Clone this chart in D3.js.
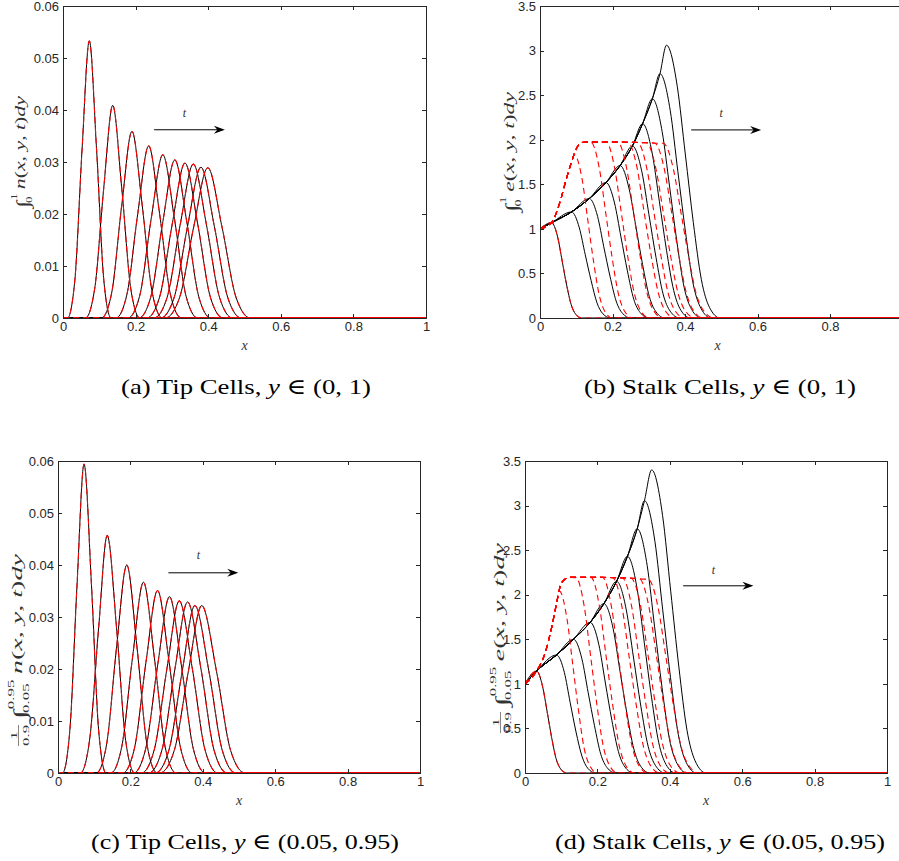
<!DOCTYPE html>
<head>
  <meta charset="utf-8">
  <script src="https://d3js.org/d3.v7.min.js"></script>
  <style>
    body { margin:0; background:#fff; }
    svg { display:block; }
  </style>
</head>
<body>
<div id="chart"></div>
<script>
  // x ticks shared by all four panels
  var xTicks = [0, 0.2, 0.4, 0.6, 0.8, 1];
  var xLabels = ["0", "0.2", "0.4", "0.6", "0.8", "1"];
  var tipYTicks = [0, 0.01, 0.02, 0.03, 0.04, 0.05, 0.06];
  var tipYLabels = ["0", "0.01", "0.02", "0.03", "0.04", "0.05", "0.06"];
  var stalkYTicks = [0, 0.5, 1, 1.5, 2, 2.5, 3, 3.5];
  var stalkYLabels = ["0", "0.5", "1", "1.5", "2", "2.5", "3", "3.5"];

  // (a) tip cells, y in (0,1): one bump per time step
  var tipA = [
    [[0.0125,0],[0.0325,0.0072],[0.0525,0.0324],[0.0725,0.0533],[0.0925,0.0324],[0.1125,0.0072],[0.1325,0]],
    [[0.062,0],[0.087,0.0055],[0.112,0.0248],[0.137,0.0409],[0.162,0.0248],[0.187,0.0055],[0.212,0]],
    [[0.106,0],[0.134,0.0048],[0.162,0.0218],[0.19,0.0359],[0.218,0.0218],[0.246,0.0048],[0.274,0]],
    [[0.146,0],[0.176,0.0045],[0.206,0.0201],[0.236,0.0331],[0.266,0.0201],[0.296,0.0045],[0.326,0]],
    [[0.179,0],[0.211,0.0042],[0.243,0.0191],[0.275,0.0314],[0.307,0.0191],[0.339,0.0042],[0.371,0]],
    [[0.209,0],[0.242,0.0041],[0.275,0.0185],[0.308,0.0304],[0.341,0.0185],[0.374,0.0041],[0.407,0]],
    [[0.231,0],[0.266,0.004],[0.301,0.0181],[0.336,0.0298],[0.371,0.0181],[0.406,0.004],[0.441,0]],
    [[0.251,0],[0.287,0.004],[0.323,0.018],[0.359,0.0296],[0.395,0.018],[0.431,0.004],[0.467,0]],
    [[0.269,0],[0.306,0.0039],[0.343,0.0176],[0.38,0.029],[0.417,0.0176],[0.454,0.0039],[0.491,0]],
    [[0.282,0],[0.321,0.0039],[0.36,0.0175],[0.399,0.0289],[0.438,0.0175],[0.477,0.0039],[0.516,0]]
  ];

  // (c) tip cells, y in (0.05,0.95)
  var tipC = [
    [[0.0125,0],[0.0325,0.008],[0.0525,0.0361],[0.072,0.0594],[0.0925,0.0361],[0.1125,0.008],[0.1325,0]],
    [[0.062,0],[0.087,0.0062],[0.112,0.0277],[0.136,0.0457],[0.162,0.0277],[0.187,0.0062],[0.212,0]],
    [[0.106,0],[0.134,0.0054],[0.162,0.0243],[0.19,0.04],[0.218,0.0243],[0.246,0.0054],[0.274,0]],
    [[0.146,0],[0.176,0.005],[0.206,0.0223],[0.236,0.0367],[0.266,0.0223],[0.296,0.005],[0.326,0]],
    [[0.179,0],[0.211,0.0047],[0.243,0.0213],[0.275,0.0351],[0.307,0.0213],[0.339,0.0047],[0.371,0]],
    [[0.209,0],[0.242,0.0046],[0.275,0.0206],[0.308,0.0339],[0.341,0.0206],[0.374,0.0046],[0.407,0]],
    [[0.231,0],[0.266,0.0045],[0.301,0.0201],[0.335,0.0331],[0.371,0.0201],[0.406,0.0045],[0.441,0]],
    [[0.251,0],[0.287,0.0044],[0.323,0.02],[0.358,0.0329],[0.395,0.02],[0.431,0.0044],[0.467,0]],
    [[0.269,0],[0.306,0.0043],[0.343,0.0195],[0.378,0.0322],[0.417,0.0195],[0.454,0.0043],[0.491,0]],
    [[0.282,0],[0.321,0.0043],[0.36,0.0195],[0.397,0.0322],[0.438,0.0195],[0.477,0.0043],[0.516,0]]
  ];

  // (b) stalk cells, y in (0,1): common rising front, then each black curve's drop
  var envB = [[0,1],[0.032,1.07],[0.087,1.19],[0.136,1.34],[0.182,1.52],[0.221,1.71],[0.255,1.93],[0.283,2.18],[0.31,2.46],[0.331,2.74]];
  var blackB = [
    [[0.032,1.07],[0.0486,0.91],[0.0611,0.64],[0.0735,0.37],[0.086,0.15],[0.0984,0.043],[0.115,0]],
    [[0.087,1.19],[0.1086,1.01],[0.1248,0.71],[0.141,0.42],[0.1572,0.17],[0.1734,0.048],[0.195,0]],
    [[0.136,1.34],[0.1588,1.14],[0.1759,0.8],[0.193,0.47],[0.2101,0.19],[0.2272,0.054],[0.25,0]],
    [[0.182,1.52],[0.2056,1.29],[0.2233,0.91],[0.241,0.53],[0.2587,0.21],[0.2764,0.061],[0.3,0]],
    [[0.221,1.71],[0.2458,1.45],[0.2644,1.03],[0.283,0.6],[0.3016,0.24],[0.3202,0.068],[0.345,0]],
    [[0.255,1.93],[0.281,1.64],[0.3005,1.16],[0.32,0.68],[0.3395,0.27],[0.359,0.077],[0.385,0]],
    [[0.283,2.18],[0.3094,1.85],[0.3292,1.31],[0.349,0.76],[0.3688,0.31],[0.3886,0.087],[0.415,0]],
    [[0.31,2.46],[0.337,2.09],[0.3573,1.48],[0.3775,0.86],[0.3978,0.34],[0.418,0.098],[0.445,0]],
    [[0.331,2.74],[0.3592,2.33],[0.3804,1.64],[0.4015,0.96],[0.4227,0.38],[0.4438,0.11],[0.472,0]],
    [[0.349,3.06],[0.3786,2.6],[0.4008,1.84],[0.423,1.07],[0.4452,0.43],[0.4674,0.12],[0.497,0]]
  ];
  var redEnvB = [[0,1],[0.032,1.07],[0.055,1.3],[0.074,1.58],[0.087,1.75],[0.097,1.87],[0.11,1.955],[0.125,1.975],[0.2,1.975],[0.26,1.97],[0.3,1.965],[0.33,1.96]];
  var redB = [
    [[0.095,1.83],[0.116,1.56],[0.1318,1.1],[0.1475,0.64],[0.1633,0.26],[0.179,0.073],[0.2,0]],
    [[0.141,1.97],[0.164,1.67],[0.1813,1.18],[0.1985,0.69],[0.2158,0.28],[0.233,0.079],[0.256,0]],
    [[0.182,1.975],[0.206,1.68],[0.224,1.19],[0.242,0.69],[0.26,0.28],[0.278,0.079],[0.302,0]],
    [[0.214,1.975],[0.239,1.68],[0.2578,1.19],[0.2765,0.69],[0.2953,0.28],[0.314,0.079],[0.339,0]],
    [[0.242,1.972],[0.268,1.68],[0.2875,1.18],[0.307,0.69],[0.3265,0.28],[0.346,0.079],[0.372,0]],
    [[0.269,1.97],[0.295,1.67],[0.3145,1.18],[0.334,0.69],[0.3535,0.28],[0.373,0.079],[0.399,0]],
    [[0.293,1.967],[0.32,1.67],[0.3403,1.18],[0.3605,0.69],[0.3808,0.28],[0.401,0.079],[0.428,0]],
    [[0.316,1.963],[0.343,1.67],[0.3633,1.18],[0.3835,0.69],[0.4038,0.28],[0.424,0.079],[0.451,0]],
    [[0.34,1.96],[0.368,1.67],[0.389,1.18],[0.41,0.69],[0.431,0.27],[0.452,0.078],[0.48,0]]
  ];

  // (d) stalk cells, y in (0.05,0.95)
  var envD = [[0,1],[0.032,1.144],[0.087,1.324],[0.134,1.5],[0.18,1.69],[0.218,1.9],[0.253,2.15],[0.283,2.43],[0.31,2.74],[0.33,3.055]];
  var blackD = [
    [[0.032,1.144],[0.0486,0.97],[0.0611,0.69],[0.0735,0.4],[0.086,0.16],[0.0984,0.046],[0.115,0]],
    [[0.087,1.324],[0.1086,1.13],[0.1248,0.79],[0.141,0.46],[0.1572,0.19],[0.1734,0.053],[0.195,0]],
    [[0.134,1.5],[0.1572,1.28],[0.1746,0.9],[0.192,0.53],[0.2094,0.21],[0.2268,0.06],[0.25,0]],
    [[0.18,1.69],[0.204,1.44],[0.222,1.01],[0.24,0.59],[0.258,0.24],[0.276,0.068],[0.3,0]],
    [[0.218,1.9],[0.2434,1.62],[0.2625,1.14],[0.2815,0.67],[0.3006,0.27],[0.3196,0.076],[0.345,0]],
    [[0.253,2.15],[0.2798,1.83],[0.2999,1.29],[0.32,0.75],[0.3401,0.3],[0.3602,0.086],[0.387,0]],
    [[0.283,2.43],[0.3096,2.07],[0.3296,1.46],[0.3495,0.85],[0.3695,0.34],[0.3894,0.097],[0.416,0]],
    [[0.31,2.74],[0.3374,2.33],[0.358,1.64],[0.3785,0.96],[0.3991,0.38],[0.4196,0.11],[0.447,0]],
    [[0.33,3.055],[0.3588,2.6],[0.3804,1.83],[0.402,1.07],[0.4236,0.43],[0.4452,0.12],[0.474,0]],
    [[0.35,3.4],[0.38,2.89],[0.4025,2.04],[0.425,1.19],[0.4475,0.48],[0.47,0.136],[0.5,0]]
  ];
  var redEnvD = [[0,1],[0.032,1.144],[0.055,1.34],[0.074,1.64],[0.087,1.9],[0.097,2.09],[0.109,2.17],[0.125,2.195],[0.2,2.195],[0.26,2.19],[0.3,2.185],[0.33,2.175]];
  var redD = [
    [[0.095,2.04],[0.116,1.73],[0.1318,1.22],[0.1475,0.71],[0.1633,0.28],[0.179,0.081],[0.2,0]],
    [[0.141,2.19],[0.164,1.86],[0.1813,1.31],[0.1985,0.77],[0.2158,0.31],[0.233,0.088],[0.256,0]],
    [[0.182,2.195],[0.206,1.86],[0.224,1.31],[0.242,0.77],[0.26,0.31],[0.278,0.088],[0.302,0]],
    [[0.214,2.195],[0.239,1.86],[0.2578,1.31],[0.2765,0.77],[0.2953,0.31],[0.314,0.088],[0.339,0]],
    [[0.242,2.19],[0.268,1.86],[0.2875,1.31],[0.307,0.77],[0.3265,0.31],[0.346,0.088],[0.372,0]],
    [[0.269,2.188],[0.295,1.86],[0.3145,1.31],[0.334,0.77],[0.3535,0.31],[0.373,0.087],[0.399,0]],
    [[0.293,2.184],[0.32,1.86],[0.3403,1.31],[0.3605,0.76],[0.3808,0.31],[0.401,0.087],[0.428,0]],
    [[0.316,2.18],[0.343,1.85],[0.3633,1.31],[0.3835,0.76],[0.4038,0.31],[0.424,0.087],[0.451,0]],
    [[0.34,2.175],[0.368,1.85],[0.389,1.31],[0.41,0.76],[0.431,0.3],[0.452,0.087],[0.48,0]]
  ];

  var captions = [
    ["(a) Tip Cells, ", "y", " \u2208 (0, 1)"],
    ["(b) Stalk Cells, ", "y", " \u2208 (0, 1)"],
    ["(c) Tip Cells, ", "y", " \u2208 (0.05, 0.95)"],
    ["(d) Stalk Cells, ", "y", " \u2208 (0.05, 0.95)"]
  ];

  // build full curves from the pieces above
  function tipCurves(bumps) {
    return bumps.map(function(b){ return [[0,0]].concat(b, [[1,0]]); });
  }
  function stalkCurves(env, drops) {
    return drops.map(function(f){
      return env.filter(function(p){ return p[0] < f[0][0]; }).concat(f, [[1,0]]);
    });
  }
  var blackBCurves = stalkCurves(envB, blackB);
  var blackDCurves = stalkCurves(envD, blackD);

  var panels = [
    {box:[63,6,426,318], ydom:[0,0.06], yt:tipYTicks, yl:tipYLabels,
     black:tipCurves(tipA), red:tipCurves(tipA),
     arrow:{x0:0.251, x1:0.446, y:0.0362, ty:0.0386},
     ylab:{x:25, y:152, len:112, kind:"a"}, cap:{x:246, y:394, len:250}},
    {box:[540,6,902.5,318], ydom:[0,3.5], yt:stalkYTicks, yl:stalkYLabels,
     black:blackBCurves, red:[blackBCurves[0]].concat(stalkCurves(redEnvB, redB)),
     arrow:{x0:0.417, x1:0.61, y:2.11, ty:2.25},
     ylab:{x:514, y:152, len:120, kind:"b"}, cap:{x:720, y:394, len:272}},
    {box:[58,461,420,773], ydom:[0,0.06], yt:tipYTicks, yl:tipYLabels,
     black:tipCurves(tipC), red:tipCurves(tipC),
     arrow:{x0:0.305, x1:0.498, y:0.0385, ty:0.0411},
     ylab:{x:22, y:650, len:192, kind:"c"}, cap:{x:245, y:849, len:308}},
    {box:[525,461,887,773], ydom:[0,3.5], yt:stalkYTicks, yl:stalkYLabels,
     black:blackDCurves, red:[blackDCurves[0]].concat(stalkCurves(redEnvD, redD)),
     arrow:{x0:0.437, x1:0.631, y:2.10, ty:2.23},
     ylab:{x:504, y:638, len:190, kind:"d"}, cap:{x:720, y:849, len:330}}
  ];

  var W = 899, H = 861;
  var svg = d3.select("#chart").append("svg").attr("width", W).attr("height", H);
  var axisColor = "#262626";
  var mathFont = "'Liberation Serif', 'DejaVu Serif', serif";

  panels.forEach(function(p, i){
    var L = p.box[0], T = p.box[1], R = p.box[2], B = p.box[3];
    var x = d3.scaleLinear().domain([0,1]).range([L,R]);
    var y = d3.scaleLinear().domain(p.ydom).range([B,T]);
    var g = svg.append("g");

    g.append("clipPath").attr("id","clip"+i).append("rect")
      .attr("x",L).attr("y",T-2).attr("width",R-L).attr("height",B-T+3);

    var line = d3.line().x(function(d){return x(d[0]);}).y(function(d){return y(d[1]);})
      .curve(d3.curveMonotoneX);

    var plot = g.append("g").attr("clip-path","url(#clip"+i+")");
    plot.selectAll(".blk").data(p.black).enter().append("path")
      .attr("d", line).attr("fill","none").attr("stroke","#000").attr("stroke-width",1);
    plot.selectAll(".red").data(p.red).enter().append("path")
      .attr("d", line).attr("fill","none").attr("stroke","#ff0000")
      .attr("stroke-width",1.1).attr("stroke-dasharray","6,4");

    //axes, matlab style box with inward ticks
    function styleAxis(sel){
      sel.attr("color",axisColor).attr("font-size",13)
        .attr("font-family","'Liberation Sans', Arial, sans-serif");
      sel.selectAll("path,line").attr("shape-rendering","crispEdges");
    }
    // a label whose centre falls off the page is left out, as in the picture
    g.append("g").attr("transform","translate(0,"+B+")")
      .call(d3.axisBottom(x).tickValues(xTicks)
        .tickFormat(function(d,k){ return x(d) > W - 4 ? "" : xLabels[k]; })
        .tickSizeInner(-4).tickSizeOuter(0).tickPadding(4)).call(styleAxis);
    g.append("g").attr("transform","translate(0,"+T+")")
      .call(d3.axisTop(x).tickValues(xTicks).tickFormat("").tickSizeInner(-4).tickSizeOuter(0)).call(styleAxis);
    g.append("g").attr("transform","translate("+L+",0)")
      .call(d3.axisLeft(y).tickValues(p.yt).tickFormat(function(d,k){return p.yl[k];})
        .tickSizeInner(-4).tickSizeOuter(0).tickPadding(4)).call(styleAxis);
    g.append("g").attr("transform","translate("+R+",0)")
      .call(d3.axisRight(y).tickValues(p.yt).tickFormat("").tickSizeInner(-4).tickSizeOuter(0)).call(styleAxis);

    // x label
    g.append("text").attr("x",(L+Math.min(R,W))/2 + (i==1 ? -2 : 0)).attr("y",B+32)
      .attr("text-anchor","middle").attr("font-family",mathFont).attr("font-style","italic")
      .attr("font-size",14).attr("fill","#333").text("x");

    // time arrow
    var a = p.arrow, ay = y(a.y), ax0 = x(a.x0), ax1 = x(a.x1);
    g.append("line").attr("x1",ax0).attr("x2",ax1-6).attr("y1",ay).attr("y2",ay)
      .attr("stroke","#000").attr("stroke-width",1);
    g.append("path").attr("d","M"+ax1+","+ay+"L"+(ax1-11)+","+(ay-4)+"L"+(ax1-7.5)+","+ay+"L"+(ax1-11)+","+(ay+4)+"Z")
      .attr("fill","#000");
    g.append("text").attr("x",(ax0+ax1)/2 - 5).attr("y",y(a.ty))
      .attr("text-anchor","middle").attr("font-family",mathFont).attr("font-style","italic")
      .attr("font-size",12).attr("fill","#333").text("t");

    yLabel(p.ylab);

    // caption
    var c = captions[i];
    var ct = svg.append("text").attr("x",p.cap.x).attr("y",p.cap.y).attr("text-anchor","middle")
      .attr("font-family",mathFont).attr("font-size",22).attr("fill","#000")
      .attr("textLength",p.cap.len).attr("lengthAdjust","spacingAndGlyphs");
    ct.append("tspan").text(c[0]);
    ct.append("tspan").attr("font-style","italic").text(c[1]);
    ct.append("tspan").text(c[2]);
  });

  // rotated math label on the y axis
  function yLabel(o){
    var outer = svg.append("g").attr("transform","translate("+o.x+","+o.y+") rotate(-90)");
    var inner = outer.append("g");
    var cx = 0;
    function txt(s, px, dy, size, italic){
      var t = inner.append("text").attr("x",px).attr("y",dy).attr("font-family",mathFont)
        .attr("font-size",size).attr("fill","#333").text(s);
      if (italic) t.attr("font-style","italic");
      return t;
    }
    if (o.kind == "c" || o.kind == "d") {
      var n = txt("1", 0, -5.5, 9), d = txt("0.9", 0, 6.5, 9);
      var w = Math.max(n.node().getComputedTextLength(), d.node().getComputedTextLength());
      n.attr("x", cx + w/2).attr("text-anchor","middle");
      d.attr("x", cx + w/2).attr("text-anchor","middle");
      inner.append("line").attr("x1",cx).attr("x2",cx+w).attr("y1",-3.5).attr("y2",-3.5)
        .attr("stroke","#333").attr("stroke-width",0.6);
      cx += w + 3;
    }
    var it = txt("\u222B", cx, 4, 18, true);
    cx += it.node().getComputedTextLength() + 0.5;
    var hi = (o.kind == "a" || o.kind == "b") ? "1" : "0.95";
    var lo = (o.kind == "a" || o.kind == "b") ? "0" : "0.05";
    var sup = txt(hi, cx, -8, 9), sub = txt(lo, cx - 2, 6.5, 9);
    cx += Math.max(sup.node().getComputedTextLength(), sub.node().getComputedTextLength() - 2) + 3;
    var fn = (o.kind == "a" || o.kind == "c") ? "n" : "e";
    var body = inner.append("text").attr("x",cx).attr("y",0).attr("font-family",mathFont)
      .attr("font-size",15).attr("fill","#333");
    [[fn,1],["(",0],["x",1],[", ",0],["y",1],[", ",0],["t",1],[")",0],["dy",1]].forEach(function(s){
      var ts = body.append("tspan").text(s[0]);
      if (s[1]) ts.attr("font-style","italic");
    });
    cx += body.node().getComputedTextLength();
    var k = o.len / cx;
    inner.attr("transform","scale("+k+",1) translate("+(-cx/2)+",0)");
  }
</script>
</body>
